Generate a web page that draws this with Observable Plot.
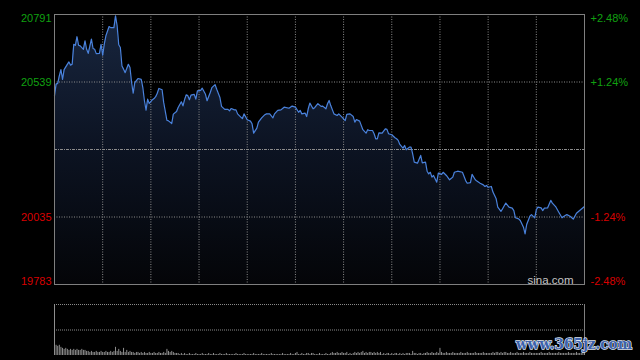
<!DOCTYPE html>
<html>
<head>
<meta charset="utf-8">
<script src="https://cdn.jsdelivr.net/npm/d3@7"></script>
<script src="https://cdn.jsdelivr.net/npm/@observablehq/plot@0.6"></script>
<style>
  html, body { margin: 0; padding: 0; background: #000; }
  #wrap { position: relative; width: 640px; height: 360px; overflow: hidden; background: #000; }
  #wrap svg { display: block; }
  #wm { position: absolute; left: 0; top: 0; pointer-events: none; }
</style>
</head>
<body>
<div id="wrap"></div>
<script>
// ---- data (minutes since 09:30, HK session 330 trading minutes) ----
const timesA = [0,1,2,3,4,5,6,8,9,10,11,12,13,14,15,16,18,19,20,21,23,24,25,26,28,29,30,31,32,34,35,37,38,39,40,41,42,43,44,46,47,48,49,50,52,54,55,56,57,58,59,61,62,63,64,65,67,68,70,71,73,74,76,77,79,80,81,82,83,84,85,87,88,89,91,92,94,95,97,98,100,101,103,104,106,108,109,110,112];
const pricesA = [20488,20531,20534,20562,20585,20549,20585,20605,20614,20602,20605,20680,20676,20708,20676,20674,20661,20693,20661,20646,20699,20664,20661,20645,20646,20680,20639,20680,20711,20746,20742,20742,20786,20749,20678,20668,20599,20587,20574,20605,20593,20537,20497,20537,20552,20549,20518,20469,20434,20475,20459,20473,20477,20484,20497,20515,20510,20462,20396,20394,20384,20419,20429,20444,20465,20450,20473,20491,20488,20473,20490,20493,20475,20506,20508,20516,20493,20469,20500,20518,20529,20512,20481,20448,20437,20437,20431,20440,20435];
const timesB = [113,114,116,117,118,120,122,123,124,126,127,129,131,132,134,136,137,139,141,143,146,148,150,152,153,154,156,157,158,159,161,162,164,166,167,169,170,171,172,174,176,177,179,181,182,184,186,187,188,190,192,194,195,196,198,199,200,201,202,204,206,207,208,210,212,213,214,215,217,218,219,221];
const pricesB = [20435,20420,20408,20402,20420,20398,20393,20383,20348,20367,20389,20405,20417,20420,20420,20405,20420,20433,20435,20445,20441,20449,20445,20426,20433,20420,20423,20410,20439,20460,20439,20443,20458,20448,20449,20439,20458,20470,20451,20420,20414,20420,20408,20395,20418,20420,20410,20389,20399,20393,20361,20348,20361,20358,20358,20346,20327,20327,20349,20348,20364,20362,20346,20342,20331,20327,20321,20306,20292,20302,20286,20296];
const timesC = [222,223,224,226,228,229,231,232,233,234,235,236,238,239,241,242,244,246,248,249,251,254,256,257,259,260,262,263,265,267,268,269,270,272,273,275,276,278,279,281,283,285,286,287,289,290,292,293,294,296,297,299,300,301,303,304,305,307,309,310,312,314,316,317,319,321,323,325,327,330];
const pricesC = [20296,20271,20240,20236,20265,20237,20240,20206,20196,20202,20184,20190,20165,20199,20194,20202,20190,20174,20184,20202,20206,20202,20171,20161,20163,20194,20174,20169,20161,20155,20149,20153,20146,20149,20128,20103,20072,20056,20066,20087,20072,20068,20059,20032,20028,20022,19997,19972,20007,20038,20044,20032,20062,20072,20069,20059,20068,20069,20097,20087,20074,20053,20032,20037,20044,20038,20027,20049,20059,20074];

// per-minute volume (relative units, panel top = 50)
const volume = [50,
 10,9,10,8,7,6,7,6,5,6,
 5,6,5,6,5,5,6,5,5,4,
 4,3,4,3,3,4,3,3,4,3,
 3,4,3,3,4,3,4,8,4,6,
 4,3,7,3,5,3,4,3,3,2,
 3,3,2,3,2,3,2,2,3,2,
 2,3,2,2,3,2,2,3,2,6,
 4,3,4,3,2,2,2,1,2,1,
 2,1,1,2,1,1,1,2,1,1,
 1,2,1,1,1,2,1,1,2,1,
 1,1,2,1,1,1,2,1,1,1,
 1,1,2,1,1,1,1,2,1,1,
 1,1,1,2,1,1,1,1,2,1,
 1,1,1,1,2,1,1,1,1,1,
 1,2,1,1,1,1,2,1,1,2,
 3,1,1,2,1,1,2,2,1,2,
 2,1,1,1,2,1,1,1,2,1,
 1,2,3,2,2,3,2,2,3,2,
 2,3,1,2,1,2,3,2,3,2,
 3,4,2,3,2,3,3,2,3,2,
 3,2,3,1,2,1,2,2,1,2,
 1,2,2,1,2,1,2,1,2,2,
 2,1,4,2,2,1,2,2,1,2,
 2,3,2,2,3,2,2,3,2,7,
 3,2,2,3,2,2,2,3,2,2,
 2,2,3,2,2,2,3,2,2,2,
 2,3,2,2,2,2,3,2,2,2,
 2,2,3,2,3,3,2,3,2,3,
 3,2,2,3,2,2,2,3,2,2,
 2,3,2,2,2,3,2,2,2,2,
 2,2,3,2,2,2,2,3,2,2,
 2,2,2,3,2,2,2,2,2,3,
 2,2,2,2,3,2,2,2,3,3];

const prevClose = 20287;
const leftTicks = [20791, 20539, 20035, 19783];
const rightLabels = ["+2.48%", "+1.24%", "-1.24%", "-2.48%"];
const gridPrices = [20539, 20035];
const gridMinutes = [30, 60, 90, 120, 150, 180, 210, 240, 270, 300];

// ---- build ----
const times = [...timesA, ...timesB, ...timesC];
const prices = [...pricesA, ...pricesB, ...pricesC];
const series = times.map((m, i) => ({m, p: prices[i]}));
const yMin = leftTicks[3], yMax = leftTicks[0];
const font = "'Liberation Sans', Arial, Helvetica, sans-serif";
const green = "#10a010", red = "#d80000";
const anchors = ["top", "middle", "middle", "bottom"];

const labelMarks = [];
leftTicks.forEach((v, i) => {
  const col = v > prevClose ? green : red;
  labelMarks.push(Plot.text([v], {y: d => d, text: d => String(d), frameAnchor: "left", dx: -3, textAnchor: "end", lineAnchor: anchors[i], fill: col, fontSize: 11}));
  labelMarks.push(Plot.text([rightLabels[i]], {y: () => v, text: d => d, frameAnchor: "right", dx: 6, textAnchor: "start", lineAnchor: anchors[i], fill: col, fontSize: 11}));
});

const main = Plot.plot({
  width: 640, height: 300,
  marginLeft: 54, marginRight: 56, marginTop: 14, marginBottom: 16,
  x: {domain: [0, 330], axis: null},
  y: {domain: [yMin, yMax], axis: null},
  style: {background: "#000", fontFamily: font, overflow: "visible"},
  marks: [
    Plot.areaY(series, {x: "m", y1: yMin, y2: "p", fill: "url(#areaGrad)", curve: "linear"}),
    Plot.ruleX(gridMinutes, {stroke: "#8a8a8a", strokeDasharray: "1,1.5"}),
    Plot.ruleY(gridPrices, {stroke: "#8a8a8a", strokeDasharray: "1,1.5"}),
    Plot.ruleY([prevClose], {stroke: "#8c8c8c", strokeDasharray: "3,1,1,1"}),
    Plot.lineY(series, {x: "m", y: "p", stroke: "#4a82dc", strokeWidth: 1.2}),
    Plot.frame({stroke: "#7f7f7f"}),
    Plot.text(["sina.com"], {frameAnchor: "bottom-right", dx: -11, dy: -1, lineAnchor: "bottom", textAnchor: "end", fill: "#c4c4c4", fontSize: 11.5}),
    ...labelMarks
  ]
});
d3.select(main).insert("defs", ":first-child").html(
  '<linearGradient id="areaGrad" gradientUnits="userSpaceOnUse" x1="0" y1="14" x2="0" y2="284">' +
  '<stop offset="0" stop-color="#18263f"/><stop offset="0.5" stop-color="#0c1322"/><stop offset="1" stop-color="#040508"/></linearGradient>');

const vol = Plot.plot({
  width: 640, height: 60,
  marginLeft: 54, marginRight: 56, marginTop: 4, marginBottom: 5,
  x: {domain: [0, 330], axis: null},
  y: {domain: [0, 50], axis: null},
  style: {background: "#000", overflow: "visible"},
  marks: [
    Plot.ruleY([50, 25], {stroke: "#8a8a8a", strokeDasharray: "1,1"}),
    Plot.ruleX([0, 330], {y1: 0, y2: 50, stroke: "#7f7f7f"}),
    Plot.ruleX(volume, {x: (d, i) => i, y1: 0, y2: d => d, stroke: "#8e8e8e", strokeWidth: 1})
  ]
});

const wrap = document.getElementById("wrap");
wrap.appendChild(main);
wrap.appendChild(vol);

// site watermark overlay
wrap.insertAdjacentHTML("beforeend",
  '<svg id="wm" width="640" height="360"><text transform="translate(516,349) scale(1.09,1.25)" font-family="DejaVu Serif" font-weight="bold" font-size="12.5" fill="#3d62ab" stroke="#dfe6f3" stroke-width="1.2" paint-order="stroke">www.365jz.com</text></svg>');
</script>
</body>
</html>
